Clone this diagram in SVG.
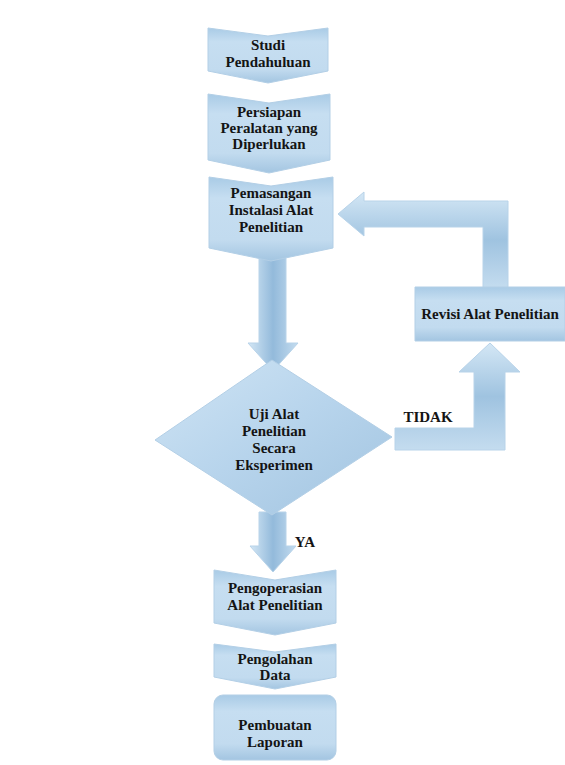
<svg xmlns="http://www.w3.org/2000/svg" width="565" height="765" viewBox="0 0 565 765">
<defs>
<linearGradient id="gBlock" x1="0" y1="0" x2="0" y2="1">
<stop offset="0" stop-color="#a9cbe6"/>
<stop offset="0.25" stop-color="#c6def1"/>
<stop offset="0.75" stop-color="#c2dbef"/>
<stop offset="1" stop-color="#a3c5e1"/>
</linearGradient>
<linearGradient id="gV" x1="0" y1="0" x2="1" y2="0">
<stop offset="0" stop-color="#d4e7f5"/>
<stop offset="0.5" stop-color="#93badb"/>
<stop offset="1" stop-color="#c4dcef"/>
</linearGradient>
<linearGradient id="gH" x1="0" y1="0" x2="0" y2="1">
<stop offset="0" stop-color="#d4e7f5"/>
<stop offset="0.5" stop-color="#9fc3e0"/>
<stop offset="1" stop-color="#c4dcef"/>
</linearGradient>
<linearGradient id="gDia" x1="0" y1="0" x2="1" y2="1">
<stop offset="0" stop-color="#cfe4f4"/>
<stop offset="0.5" stop-color="#b7d4ec"/>
<stop offset="1" stop-color="#a2c4e0"/>
</linearGradient>
</defs>
<style>
.blk{fill:url(#gBlock);stroke:#b3cfe6;stroke-width:1}
.dia{fill:url(#gDia);stroke:#b3cfe6;stroke-width:1}
.av{fill:url(#gV);stroke:#b8d3e9;stroke-width:1}
.ah{fill:url(#gH);stroke:#b8d3e9;stroke-width:1}
.t{font-family:"Times New Roman","Liberation Serif",serif;font-weight:bold;font-size:15px;fill:#141414;text-anchor:middle}
</style>
<rect width="565" height="765" fill="#ffffff"/>

<g id="connectors">
<path class="av" d="M259,252 L286,252 L286,343 L298,343 L273,371 L248,343 L259,343 Z"/>
<path class="av" d="M259,512 L286,512 L286,546 L296,546 L273,572 L250,546 L259,546 Z"/>
<path class="ah" d="M395,428 L474,428 L474,372 L459,372 L490,343 L520,372 L505,372 L505,450 L395,450 Z"/>
<path class="ah" d="M338,214 L364,192 L364,201 L508,201 L508,288 L483,288 L483,227 L364,227 L364,236 Z"/>
<text class="t" x="428" y="422">TIDAK</text>
<text class="t" x="305" y="547">YA</text>
</g>

<g id="n1">
<path class="blk" d="M208,28 L268,36 L328,28 L328,71 L268,83 L208,71 Z"/>
<text class="t" x="268" y="50">Studi</text>
<text class="t" x="268" y="67">Pendahuluan</text>
</g>

<g id="n2">
<path class="blk" d="M208,94 L269,103 L330,94 L330,160 L269,173 L208,160 Z"/>
<text class="t" x="269" y="117">Persiapan</text>
<text class="t" x="269" y="133">Peralatan yang</text>
<text class="t" x="269" y="149">Diperlukan</text>
</g>

<g id="n3">
<path class="blk" d="M209,177 L271,186 L333,177 L333,248 L271,261 L209,248 Z"/>
<text class="t" x="271" y="198">Pemasangan</text>
<text class="t" x="271" y="215">Instalasi Alat</text>
<text class="t" x="271" y="232">Penelitian</text>
</g>

<g id="n4">
<path class="blk" d="M415,287 L565,287 L565,341 L415,341 Z"/>
<text class="t" x="490" y="319">Revisi Alat Penelitian</text>
</g>

<g id="n5">
<path class="dia" d="M272,360 L392,437 L272,515 L155,440 Z"/>
<text class="t" x="274" y="419">Uji Alat</text>
<text class="t" x="274" y="436">Penelitian</text>
<text class="t" x="274" y="453">Secara</text>
<text class="t" x="274" y="470">Eksperimen</text>
</g>

<g id="n6">
<path class="blk" d="M214,570 L275,580 L336,570 L336,623 L275,635 L214,623 Z"/>
<text class="t" x="275" y="593">Pengoperasian</text>
<text class="t" x="275" y="610">Alat Penelitian</text>
</g>

<g id="n7">
<path class="blk" d="M214,644 L275,652 L336,644 L336,677 L275,689 L214,677 Z"/>
<text class="t" x="275" y="664">Pengolahan</text>
<text class="t" x="275" y="680">Data</text>
</g>

<g id="n8">
<rect class="blk" x="214" y="695" width="122" height="65" rx="9"/>
<text class="t" x="275" y="730">Pembuatan</text>
<text class="t" x="275" y="747">Laporan</text>
</g>
</svg>
